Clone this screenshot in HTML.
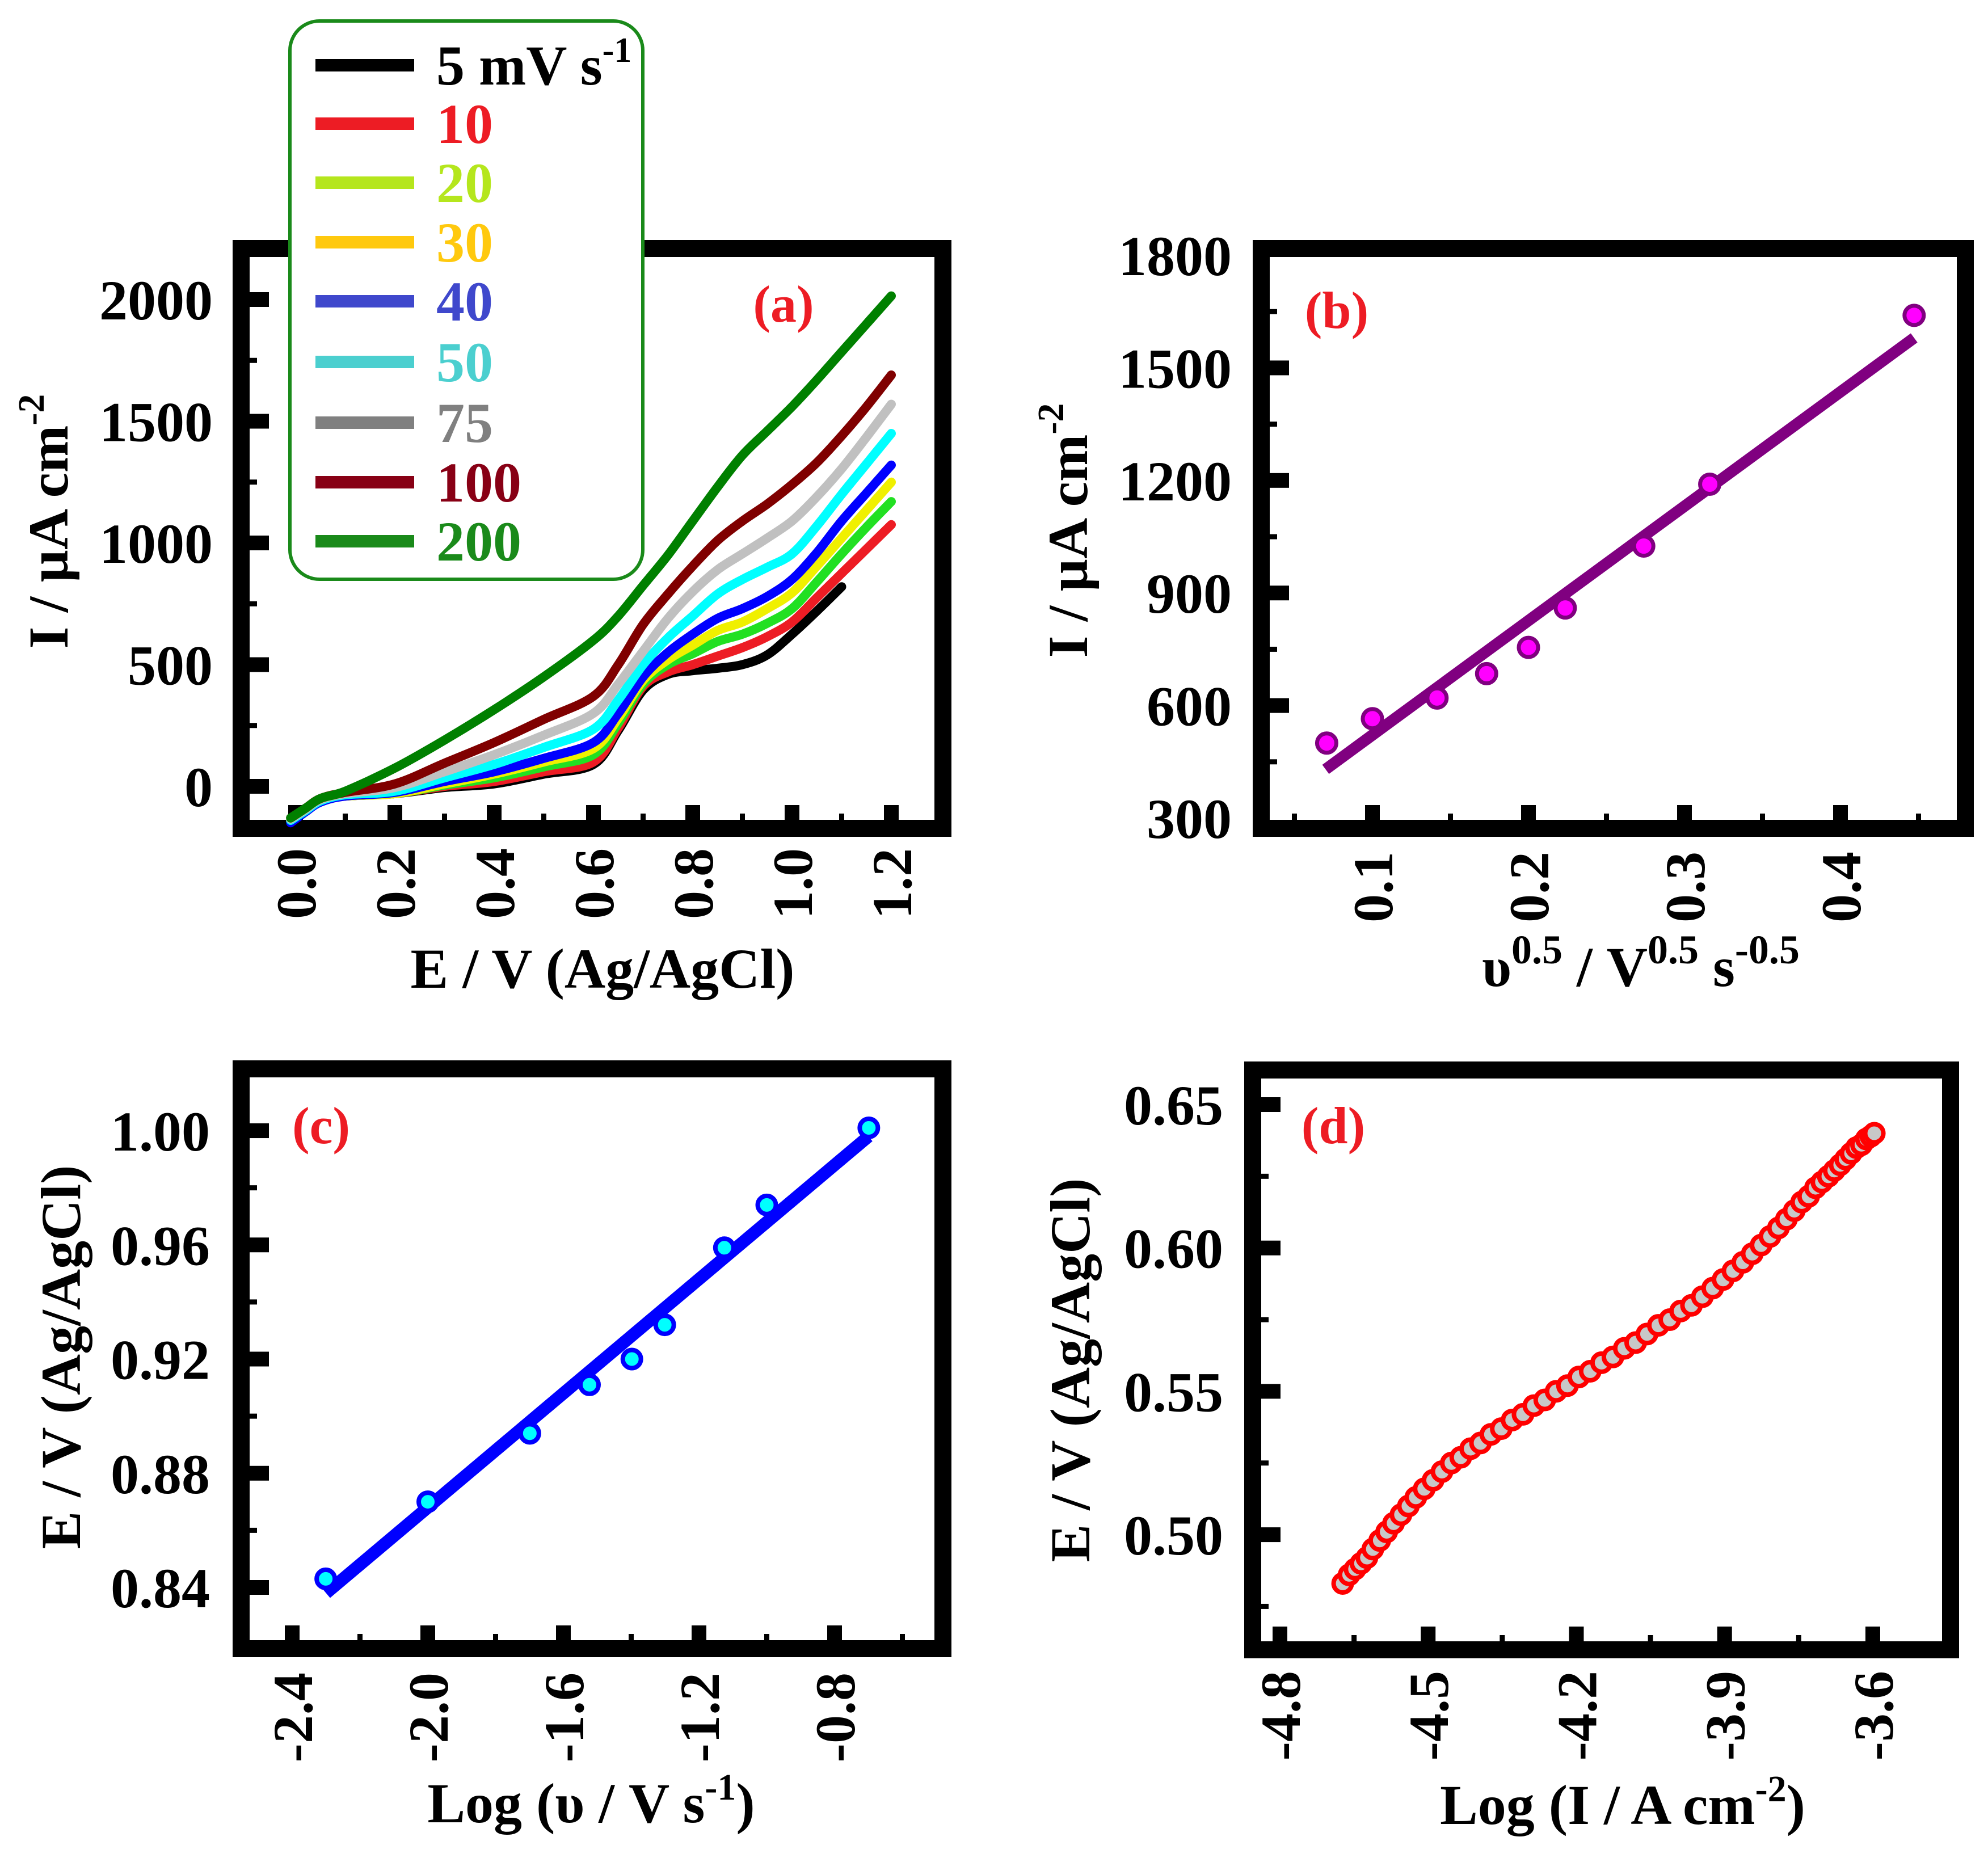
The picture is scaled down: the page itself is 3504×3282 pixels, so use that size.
<!DOCTYPE html>
<html><head><meta charset="utf-8"><title>CV analysis</title>
<style>
html,body{margin:0;padding:0;background:#fff;}
svg{display:block;}
text{font-family:"Liberation Serif",serif;font-weight:bold;}
</style></head>
<body>
<svg id="fig" xmlns="http://www.w3.org/2000/svg" width="3504" height="3282" viewBox="0 0 3504 3282">
<rect x="0" y="0" width="3504" height="3282" fill="#fff"/>
<g id="pa"></g>
<g id="pb"></g>
<g id="pc"></g>
<g id="pd"></g>

<text transform="translate(119,919) rotate(-90)" text-anchor="middle" font-size="100">I / µA cm<tspan font-size="66" dy="-42">-2</tspan></text>
<text x="1062" y="1741" text-anchor="middle" font-size="100">E / V (Ag/AgCl)</text>
<text transform="translate(1916,935) rotate(-90)" text-anchor="middle" font-size="100">I / µA cm<tspan font-size="66" dy="-42">-2</tspan></text>
<text x="2892" y="1738" text-anchor="middle" font-size="100">υ<tspan font-size="72" dy="-40">0.5</tspan><tspan dy="40"> / V</tspan><tspan font-size="72" dy="-40">0.5</tspan><tspan dy="40"> s</tspan><tspan font-size="72" dy="-40">-0.5</tspan></text>
<text transform="translate(141,2392) rotate(-90)" text-anchor="middle" font-size="100">E / V (Ag/AgCl)</text>
<text x="1042" y="3212" text-anchor="middle" font-size="100">Log (υ / V s<tspan font-size="66" dy="-40">-1</tspan><tspan dy="40">)</tspan></text>
<text transform="translate(1920,2415) rotate(-90)" text-anchor="middle" font-size="100">E / V (Ag/AgCl)</text>
<text x="2860" y="3215" text-anchor="middle" font-size="100">Log (I / A cm<tspan font-size="66" dy="-40">-2</tspan><tspan dy="40">)</tspan></text>

<text x="1381" y="567" text-anchor="middle" font-size="92" fill="#ed1c24">(a)</text>
<text x="2356" y="578" text-anchor="middle" font-size="92" fill="#ed1c24">(b)</text>
<text x="566" y="2015" text-anchor="middle" font-size="92" fill="#ed1c24">(c)</text>
<text x="2350" y="2015" text-anchor="middle" font-size="92" fill="#ed1c24">(d)</text>

<g id="legend"></g>
</svg>
<script>
// ---------- data ----------
const cvPotentials = [0,0.02,0.05,0.1,0.2,0.3,0.4,0.5,0.6,0.65,0.7,0.75,0.8,0.85,0.9,0.95,1.0,1.05,1.1,1.15,1.2];
const cvScanRates = ["5","10","20","30","40","50","75","100","200"];
const cv5 = [-130,-90,-55,-40,-30,-5,10,50,90,230,395,460,475,485,500,540,625,720,820,null,null];
const cv10 = [-140,-95,-60,-40,-30,0,20,60,100,240,410,470,500,535,570,615,675,775,875,975,1075];
const cv20 = [-145,-100,-60,-40,-30,5,35,80,130,260,420,500,545,595,625,670,730,840,955,1065,1170];
const cv30 = [-145,-100,-60,-40,-30,10,50,100,155,280,435,520,580,640,675,730,795,905,1020,1135,1250];
const cv40 = [-150,-105,-65,-40,-25,20,60,115,180,300,450,550,625,690,730,780,850,960,1090,1205,1320];
const cv50 = [-140,-100,-60,-35,-20,35,90,160,235,355,500,610,700,790,850,900,955,1070,1200,1325,1450];
const cv75 = [-135,-95,-55,-30,-5,60,130,210,300,420,555,690,800,890,955,1020,1090,1190,1305,1435,1570];
const cv100 = [-130,-90,-50,-25,10,95,180,275,370,500,665,790,905,1010,1090,1160,1240,1330,1440,1560,1690];
const cv200 = [-130,-90,-50,-20,75,190,315,450,600,700,825,950,1090,1230,1360,1460,1560,1670,1785,1900,2015];
const cvColors = ["#000000","#ed1c24","#22e022","#f0f000","#0000ff","#00ffff","#c0c0c0","#800000","#008000"];
const legendColors = ["#000000","#ed1c24","#b5e61d","#ffc90e","#3f48cc","#4bcfcf","#808080","#880015","#1a8a1a"];
const aYTicks = [0,500,1000,1500,2000];
const aXTicks = ["0.0","0.2","0.4","0.6","0.8","1.0","1.2"];

const bX = [0.0707,0.1,0.1414,0.1732,0.2,0.2236,0.2739,0.3162,0.4472];
const bY = [500,565,620,685,755,860,1025,1190,1640];
const bFitX = [0.07,0.4472];
const bFitY = [430,1580];
const bYTicks = [300,600,900,1200,1500,1800];
const bXTicks = ["0.1","0.2","0.3","0.4"];

const cX = [-2.301,-2.0,-1.699,-1.523,-1.398,-1.301,-1.125,-1.0,-0.699];
const cY = [0.843,0.870,0.894,0.911,0.920,0.932,0.959,0.974,1.001];
const cFitX = [-2.3,-0.7];
const cFitY = [0.838,0.998];
const cYTicks = ["0.84","0.88","0.92","0.96","1.00"];
const cXTicks = ["-2.4","-2.0","-1.6","-1.2","-0.8"];

const dX = [-4.673,-4.660,-4.648,-4.636,-4.624,-4.612,-4.598,-4.584,-4.570,-4.555,-4.540,-4.525,-4.508,-4.490,-4.472,-4.453,-4.434,-4.414,-4.394,-4.373,-4.352,-4.330,-4.308,-4.286,-4.264,-4.241,-4.218,-4.195,-4.172,-4.149,-4.126,-4.103,-4.080,-4.057,-4.034,-4.011,-3.989,-3.967,-3.945,-3.924,-3.903,-3.883,-3.863,-3.844,-3.826,-3.808,-3.791,-3.775,-3.759,-3.744,-3.730,-3.716,-3.703,-3.690,-3.678,-3.666,-3.655,-3.644,-3.633,-3.623,-3.613,-3.604,-3.597];
const dY = [0.483,0.486,0.488,0.490,0.492,0.495,0.498,0.501,0.504,0.507,0.510,0.513,0.516,0.519,0.522,0.525,0.527,0.530,0.532,0.535,0.537,0.540,0.542,0.545,0.547,0.550,0.552,0.555,0.557,0.560,0.562,0.565,0.567,0.570,0.573,0.575,0.578,0.580,0.583,0.586,0.589,0.592,0.595,0.598,0.601,0.604,0.607,0.610,0.613,0.616,0.618,0.621,0.623,0.625,0.627,0.629,0.631,0.633,0.635,0.636,0.638,0.639,0.640];
const dYTicks = ["0.50","0.55","0.60","0.65"];
const dXTicks = ["-4.8","-4.5","-4.2","-3.9","-3.6"];

// ---------- axis functions ----------
const xA = e => 521 + e*875,  yA = i => 1386 - i*0.429;
const xB = v => 2144 + v*2750, yB = i => 1442 - (i-300)*0.6613;
const xC = v => 515 + (v+2.4)*597.5, yC = e => 2798 - (e-0.84)*5031;
const xD = v => 2256 + (v+4.8)*870.8, yD = e => 1947 + (0.65-e)*5054;

const NS = "http://www.w3.org/2000/svg";
function mk(tag, parent, attrs){
  const el = document.createElementNS(NS, tag);
  for (const k in attrs) el.setAttribute(k, attrs[k]);
  parent.appendChild(el);
  return el;
}
function smoothPath(pts){
  if (pts.length < 2) return "";
  let d = "M" + pts[0][0].toFixed(1) + "," + pts[0][1].toFixed(1);
  for (let i=0;i<pts.length-1;i++){
    const p0 = pts[Math.max(0,i-1)], p1 = pts[i], p2 = pts[i+1], p3 = pts[Math.min(pts.length-1,i+2)];
    const c1x = p1[0] + (p2[0]-p0[0])/6, c1y = p1[1] + (p2[1]-p0[1])/6;
    const c2x = p2[0] - (p3[0]-p1[0])/6, c2y = p2[1] - (p3[1]-p1[1])/6;
    d += "C" + c1x.toFixed(1)+","+c1y.toFixed(1)+" "+c2x.toFixed(1)+","+c2y.toFixed(1)+" "+p2[0].toFixed(1)+","+p2[1].toFixed(1);
  }
  return d;
}

function frame(g, x0, y0, x1, y1, name){
  const r = mk("rect", g, {x:x0+15, y:y0+15, width:x1-x0-30, height:y1-y0-30, fill:"none", stroke:"#000", "stroke-width":30});
  
  
  return {l:x0+30, r:x1-30, t:y0+30, b:y1-30};
}
function yTick(g, f, y, major, name){
  const len = major?34:13, th = major?26:9;
  const t = mk("rect", g, {x:f.l, y:y-th/2, width:len, height:th, fill:"#000"});
  
  
}
function xTick(g, f, x, major, name){
  const len = major?26:11, th = major?26:9;
  const t = mk("rect", g, {x:x-th/2, y:f.b-len, width:th, height:len, fill:"#000"});
  
  
}
function yLabel(g, xr, y, s){
  const t = mk("text", g, {x:xr, y:y+35, "text-anchor":"end", "font-size":100});
  t.textContent = s;
  
  
}
function xLabel(g, x, ytop, s){
  const t = mk("text", g, {transform:`translate(${x+35},${ytop}) rotate(-90)`, "text-anchor":"end", "font-size":100});
  t.textContent = s;
  
  
}

// ---------- panel a ----------
const pa = document.getElementById("pa");
const fa = frame(pa, 410, 423, 1677, 1475, "panel-a-frame");
for (let v=-250; v<=2250; v+=250){ const y=yA(v); if(y<fa.t+10||y>fa.b-10) continue; yTick(pa, fa, y, v%500===0, v%500===0?'y-major-tick':'y-minor-tick'); }
aYTicks.forEach(v => yLabel(pa, 375, yA(v), String(v)));
for (let k=0;k<=12;k++){ const e=k/10; xTick(pa, fa, xA(e), k%2===0, k%2===0?'x-major-tick':'x-minor-tick'); }
aXTicks.forEach(s => xLabel(pa, xA(parseFloat(s)), 1495, s));
const cvSeries = [cv5,cv10,cv20,cv30,cv40,cv50,cv75,cv100,cv200];
cvSeries.forEach((ser, si) => {
  const pts = [];
  ser.forEach((v, i) => { if (v===null) return; pts.push([xA(cvPotentials[i]-0.01*(i===0)), yA(v)]); });
  const p = mk("path", pa, {d:smoothPath(pts), fill:"none", stroke:cvColors[si], "stroke-width":16, "stroke-linejoin":"round", "stroke-linecap":"round"});
  
  
});

// legend
const lg = document.getElementById("legend");
const lbox = mk("rect", lg, {x:511, y:37, width:622, height:984, rx:52, fill:"#fff", stroke:"#1a8a1a", "stroke-width":6});


const legY = [115,218,322,427,531,638,745,850,954];
cvScanRates.forEach((s, i) => {
  const ln = mk("rect", lg, {x:556, y:legY[i]-11, width:174, height:22, fill:legendColors[i]});
  
  
  const t = mk("text", lg, {x:769, y:legY[i]+34, "font-size":100, fill:legendColors[i]});
  
  
  if (i===0){
    t.textContent = "5 mV s";
    const sp = mk("tspan", t, {"font-size":62, dy:-40});
    sp.textContent = "-1";
  } else t.textContent = s;
});

// ---------- panel b ----------
const pb = document.getElementById("pb");
const fb = frame(pb, 2208, 423, 3479, 1475, "panel-b-frame");
for (let v=300; v<=1950; v+=150){ const y=yB(v); if(y<fb.t+10||y>fb.b-10) continue; yTick(pb, fb, y, v%300===0, v%300===0?'y-major-tick':'y-minor-tick'); }
bYTicks.forEach(v => yLabel(pb, 2171, yB(v), String(v)));
for (let k=1;k<=9;k++){ const v=k*0.05; if(xB(v)>fb.r-10) continue; xTick(pb, fb, xB(v), k%2===0, k%2===0?'x-major-tick':'x-minor-tick'); }
bXTicks.forEach(s => xLabel(pb, xB(parseFloat(s)), 1501, s));
const bLine = mk("line", pb, {x1:xB(bFitX[0]), y1:yB(bFitY[0]), x2:xB(bFitX[1]), y2:yB(bFitY[1]), stroke:"#800080", "stroke-width":20});


bX.forEach((v, i) => {
  const c = mk("circle", pb, {cx:xB(v), cy:yB(bY[i]), r:17, fill:"#ff00ff", stroke:"#800080", "stroke-width":7});
  
  
});

// ---------- panel c ----------
const pc = document.getElementById("pc");
const fc = frame(pc, 410, 1869, 1677, 2921, "panel-c-frame");
for (let k=-1;k<=10;k++){ const e=0.82+k*0.02; const y=yC(e); if(y<fc.t+10||y>fc.b-10) continue; yTick(pc, fc, y, k%2===1, k%2===1?'y-major-tick':'y-minor-tick'); }
cYTicks.forEach(s => yLabel(pc, 370, yC(parseFloat(s)), s));
for (let k=0;k<=9;k++){ const v=-2.4+k*0.2; if(xC(v)>fc.r-10) continue; xTick(pc, fc, xC(v), k%2===0, k%2===0?'x-major-tick':'x-minor-tick'); }
cXTicks.forEach(s => xLabel(pc, xC(parseFloat(s)), 2948, s));
const cLine = mk("line", pc, {x1:xC(cFitX[0]), y1:yC(cFitY[0]), x2:xC(cFitX[1]), y2:yC(cFitY[1]), stroke:"#0000ff", "stroke-width":22});


cX.forEach((v, i) => {
  const c = mk("circle", pc, {cx:xC(v), cy:yC(cY[i]), r:16, fill:"#00ffff", stroke:"#0000ff", "stroke-width":8});
  
  
});

// ---------- panel d ----------
const pd = document.getElementById("pd");
const fd = frame(pd, 2193, 1871, 3453, 2923, "panel-d-frame");
for (let k=0;k<=8;k++){ const e=0.45+k*0.025; const y=yD(e); if(y<fd.t+10||y>fd.b-10) continue; yTick(pd, fd, y, k%2===0, k%2===0?'y-major-tick':'y-minor-tick'); }
dYTicks.forEach(s => yLabel(pd, 2156, yD(parseFloat(s)), s));
for (let k=0;k<=8;k++){ const v=-4.8+k*0.15; if(xD(v)>fd.r-10) continue; xTick(pd, fd, xD(v), k%2===0, k%2===0?'x-major-tick':'x-minor-tick'); }
dXTicks.forEach(s => xLabel(pd, xD(parseFloat(s)), 2945, s));
dX.forEach((v, i) => {
  const c = mk("circle", pd, {cx:xD(v), cy:yD(dY[i]), r:16, fill:"#c8c8c8", stroke:"#ff0000", "stroke-width":8});
  
  
});
</script>
</body></html>
